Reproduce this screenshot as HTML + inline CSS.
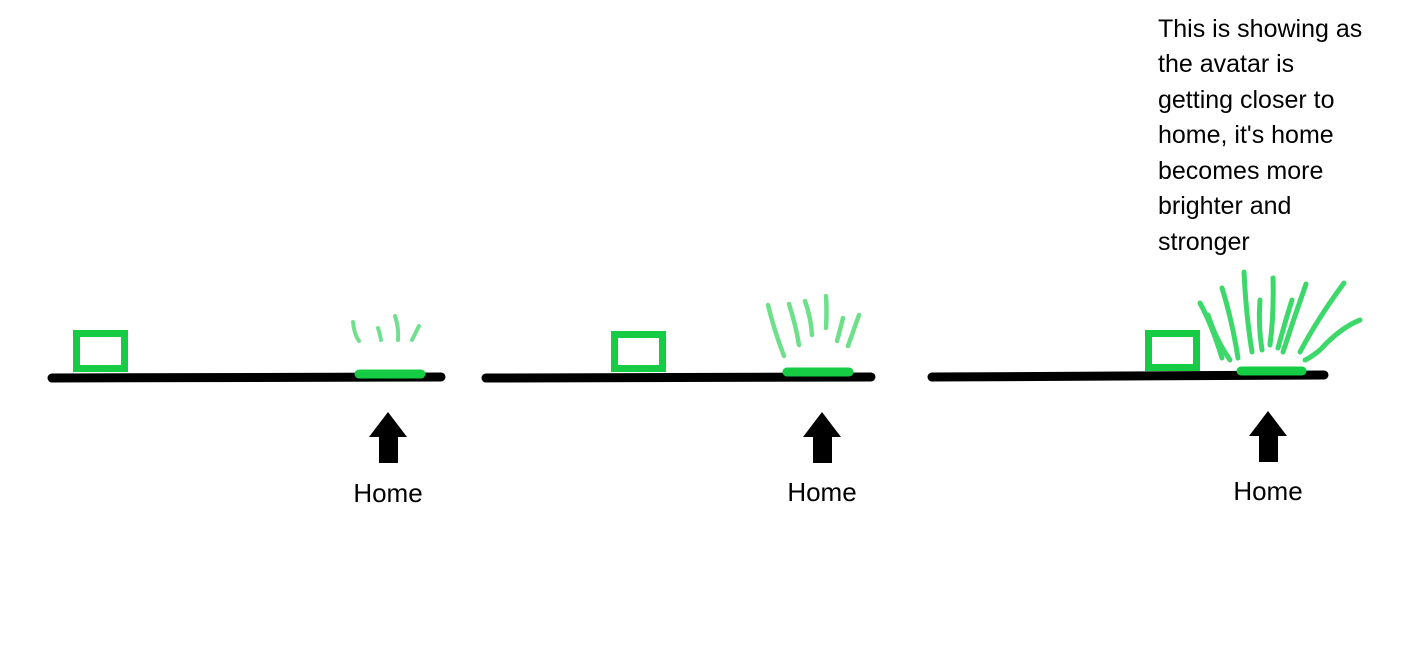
<!DOCTYPE html>
<html><head><meta charset="utf-8"><style>
html,body{margin:0;padding:0;background:#fff;}
svg{display:block}
text{font-family:"Liberation Sans",sans-serif;fill:#000}
</style></head><body>
<svg width="1416" height="672" viewBox="0 0 1416 672">
<g>
  <line x1="52" y1="378" x2="441" y2="377" stroke="#000" stroke-width="9" stroke-linecap="round"/>
  <rect x="76.5" y="333.5" width="48" height="35" fill="none" stroke="#17cc45" stroke-width="7"/>
  <line x1="359" y1="374" x2="421" y2="374" stroke="#17cc45" stroke-width="9" stroke-linecap="round"/>
  <g stroke="#72df8f" stroke-width="4" fill="none" stroke-linecap="round">
    <path d="M353 322 Q354 334 359 341"/>
    <path d="M378 328 Q380 334 381 340"/>
    <path d="M395 316 Q399 328 398 340"/>
    <path d="M419 326 Q415 334 412 340"/>
  </g>
  <polygon points="388,412 369,437 407,437" fill="#000"/>
  <rect x="379" y="436" width="19" height="27" fill="#000"/>
  <text x="388" y="502" font-size="26" text-anchor="middle">Home</text>
</g>
<g>
  <line x1="486" y1="378" x2="871" y2="377" stroke="#000" stroke-width="9" stroke-linecap="round"/>
  <rect x="614.5" y="334.5" width="48" height="34" fill="none" stroke="#17cc45" stroke-width="7"/>
  <line x1="787" y1="372" x2="849" y2="372" stroke="#17cc45" stroke-width="9" stroke-linecap="round"/>
  <g stroke="#6ee08a" stroke-width="4.5" fill="none" stroke-linecap="round">
    <path d="M768 305 Q774 330 784 356"/>
    <path d="M789 304 Q796 326 799 345"/>
    <path d="M805 301 Q811 318 812 335"/>
    <path d="M826 296 Q827 312 826 328"/>
    <path d="M843 318 Q840 330 837 341"/>
    <path d="M859 315 Q853 332 848 346"/>
  </g>
  <polygon points="822,412 803,437 841,437" fill="#000"/>
  <rect x="813" y="436" width="19" height="27" fill="#000"/>
  <text x="822" y="501" font-size="26" text-anchor="middle">Home</text>
</g>
<g>
  <line x1="932" y1="377" x2="1324" y2="375" stroke="#000" stroke-width="9" stroke-linecap="round"/>
  <rect x="1148.5" y="333.5" width="48" height="34" fill="none" stroke="#17cc45" stroke-width="7"/>
  <line x1="1241" y1="371" x2="1302" y2="371" stroke="#17cc45" stroke-width="9" stroke-linecap="round"/>
  <g stroke="#3dd86a" stroke-width="5" fill="none" stroke-linecap="round">
    <path d="M1200 303 Q1212 325 1222 358"/>
    <path d="M1208 315 Q1216 340 1230 360"/>
    <path d="M1222 288 Q1232 320 1238 358"/>
    <path d="M1244 272 Q1246 315 1252 352"/>
    <path d="M1260 300 Q1258 325 1262 350"/>
    <path d="M1273 278 Q1274 315 1270 345"/>
    <path d="M1292 300 Q1285 322 1278 348"/>
    <path d="M1306 284 Q1294 318 1283 352"/>
    <path d="M1344 283 Q1318 318 1300 352"/>
    <path d="M1360 320 Q1340 328 1320 350 Q1310 358 1305 360"/>
  </g>
  <polygon points="1268,411 1249,436 1287,436" fill="#000"/>
  <rect x="1259" y="435" width="19" height="27" fill="#000"/>
  <text x="1268" y="500" font-size="26" text-anchor="middle">Home</text>
</g>
<g font-size="25">
  <text x="1158" y="37">This is showing as</text>
  <text x="1158" y="72">the avatar is</text>
  <text x="1158" y="108">getting closer to</text>
  <text x="1158" y="143">home, it's home</text>
  <text x="1158" y="179">becomes more</text>
  <text x="1158" y="214">brighter and</text>
  <text x="1158" y="250">stronger</text>
</g>
</svg>
</body></html>
